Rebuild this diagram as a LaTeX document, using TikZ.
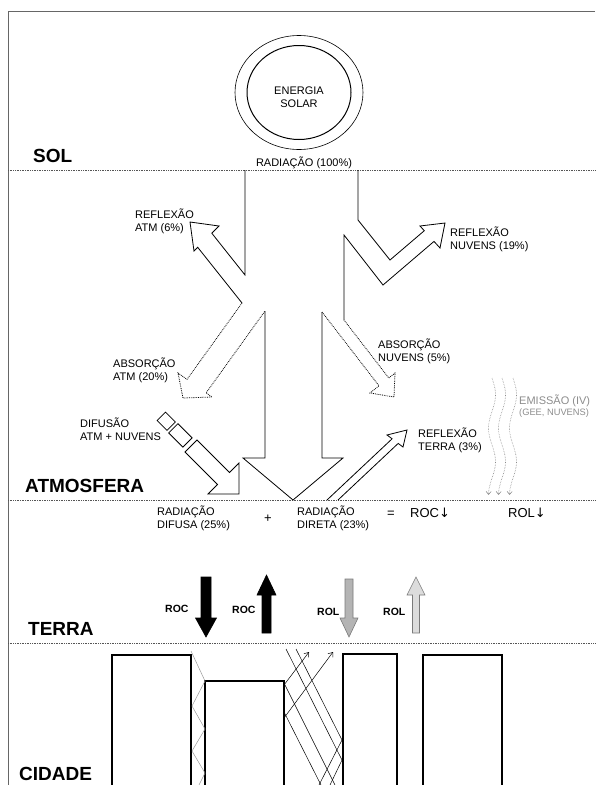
\documentclass[tikz,border=0pt]{standalone}
\usepackage{fontspec}
\setmainfont{Liberation Sans}
\newfontfamily\arrowfont{DejaVu Sans}
\usetikzlibrary{arrows.meta}
\definecolor{frameGray}{HTML}{666666}
\definecolor{layerGray}{HTML}{555555}
\definecolor{emisGray}{HTML}{8C8C8C}
\definecolor{rolDownFill}{HTML}{B4B4B4}
\definecolor{rolUpFill}{HTML}{DCDCDC}
\definecolor{rolEdge}{HTML}{7A7A7A}
\newcommand\lblfont{\fontsize{11}{13}\selectfont}
\newcommand\emisfont{\fontsize{9.3}{11}\selectfont}
\newcommand\layerfont{\bfseries\fontsize{19}{22}\selectfont}
\newcommand\twolines[2]{\begin{tabular}[t]{@{}l@{}}#1\\#2\end{tabular}}
\tikzset{%
  frame/.style={draw=frameGray, line width=0.8pt},
  layer/.style={draw=layerGray, densely dotted, line width=0.7pt},
  flow/.style={draw=black, line width=0.8pt, line join=miter},
  absorb/.style={flow, densely dotted},
  lbl/.style={font=\lblfont, inner sep=0pt, anchor=base west},
  title/.style={font=\layerfont, inner sep=0pt, anchor=base west},
  sumlbl/.style={font=\fontsize{13}{15}\selectfont, inner sep=0pt, anchor=base west},
  roclbl/.style={font=\bfseries\fontsize{10.5}{12}\selectfont, inner sep=0pt, anchor=base west},
  wave/.style={draw=emisGray, densely dotted, line width=0.6pt, -{Straight Barb[length=3pt,width=5pt]}},
  building/.style={line width=1.3pt},
  ray/.style={line width=0.5pt},
  bounce/.style={draw=black!40, line width=0.5pt},
}

\begin{document}
\begin{tikzpicture}[x=1pt, y=-1pt, >={Straight Barb[length=4pt,width=6pt]}]
\useasboundingbox (0,0) rectangle (595,785);
% frame and layers
\draw[frame] (595,11) -- (8,11) -- (8,785);
\foreach \ly in {170,500,643}
    \draw[layer] (8,\ly) -- (595,\ly);
\node[title] (sol) at (33,162) {SOL};
\node[title] (atmos) at (25,492) {ATMOSFERA};
\node[title] (terra) at (28,635) {TERRA};
\node[title] (cidade) at (19,780) {CIDADE};

% sun
\draw[line width=0.6pt] (299,92.5) ellipse [x radius=64, y radius=57];
\draw[line width=1pt] (299,92.5) ellipse [x radius=52, y radius=47];
\node[lbl, anchor=base] (sun) at (299,94) {\begin{tabular}[t]{@{}c@{}}ENERGIA\\SOLAR\end{tabular}};
\node[lbl, anchor=base] (rad) at (304,166) {RADIAÇÃO (100\%)};

% incoming radiation, split in the atmosphere
\draw[flow] (245,170) -- (245,275) -- (211.8,233.2) -- (219,226) -- (190,222) -- (194,251) -- (197.7,247.3) -- (242,303);
\draw[absorb] (242,303) -- (187,379.4) -- (178,373) -- (183,398) -- (212,397) -- (206.1,392.9) -- (265,311);
\draw[flow] (265,311) -- (265,458) -- (243,458) -- (293,500) -- (343,458) -- (322,458) -- (322,312);
\draw[absorb] (322,312) -- (379,385.8) -- (370,393) -- (394,397) -- (395,373) -- (388.8,378) -- (344,320);
\draw[flow] (344,320) -- (344,235) -- (383,285) -- (434,241.4) -- (440,248) -- (445,223) -- (420,226) -- (424.3,230.7) -- (390,260) -- (358,220) -- (358,170);

% diffuse radiation
\draw[flow] (165.5,412.1) -- (157.1,420.5) -- (167,430.4) -- (175.4,422) -- cycle;
\draw[flow] (177.9,423.7) -- (168.7,432.9) -- (182.9,447.1) -- (192.1,437.9) -- cycle;
\draw[flow] (197,440) -- (229.5,472.5) -- (239,463) -- (239,494) -- (208,494) -- (217.5,484.5) -- (185,452) -- cycle;

% reflected by the ground
\draw[flow] (327,500) -- (392.1,438.8) -- (387,435) -- (407,430) -- (403,447) -- (398.2,443.4) -- (338,500);

% labels
\node[lbl] (reflAtm) at (135,218) {\twolines{REFLEXÃO}{ATM (6\%)}};
\node[lbl] (reflNuv) at (450,236) {\twolines{REFLEXÃO}{NUVENS (19\%)}};
\node[lbl] (absAtm) at (113,367) {\twolines{ABSORÇÃO}{ATM (20\%)}};
\node[lbl] (absNuv) at (378,348) {\twolines{ABSORÇÃO}{NUVENS (5\%)}};
\node[lbl] (difus) at (80,427) {\twolines{DIFUSÃO}{ATM + NUVENS}};
\node[lbl] (reflTerra) at (418,437) {\twolines{REFLEXÃO}{TERRA (3\%)}};
\node[lbl, text=emisGray] (emis) at (519,404) {EMISSÃO (IV)};
\node[lbl, font=\emisfont, text=emisGray] (gee) at (519,415) {(GEE, NUVENS)};

% infrared emission
\foreach \wx in {492,502,513}
    \draw[wave] plot[domain=0:1, samples=60, variable=\t] ({\wx+3.5*sin(630*\t)}, {378+117*\t});

% balance at the surface
\node[lbl] (difusa) at (157,515) {\twolines{RADIAÇÃO}{DIFUSA (25\%)}};
\node[sumlbl, anchor=base] (plus) at (268,522) {+};
\node[lbl] (direta) at (297,515) {\twolines{RADIAÇÃO}{DIRETA (23\%)}};
\node[sumlbl, anchor=base] (equal) at (391,517) {=};
\node[sumlbl] (rocSum) at (410,517) {ROC{\arrowfont ↓}};
\node[sumlbl] (rolSum) at (508,517) {ROL{\arrowfont ↓}};

% ROC / ROL fluxes
\foreach \x/\ya/\yb/\yc/\hw/\hh/\fc/\dc in {206/577/618/637/5/10.5/black/black, 266.5/633/595/575/4.5/9.5/black/black, 349/579/618/637/4/9/rolDownFill/rolEdge, 416/633/595/577/3.5/9/rolUpFill/rolEdge}
    \draw[draw=\dc, fill=\fc, line width=0.6pt] (\x-\hw,\ya) -- (\x-\hw,\yb) -- (\x-\hh,\yb) -- (\x,\yc) -- (\x+\hh,\yb) -- (\x+\hw,\yb) -- (\x+\hw,\ya) -- cycle;
\foreach \lx/\ly/\txt/\nm in {165/612/ROC/rocA, 232/613/ROC/rocB, 317/615/ROL/rolA, 383/615/ROL/rolB}
    \node[roclbl] (\nm) at (\lx,\ly) {\txt};

% city
\foreach \bl/\br/\bt in {112/191/655, 205/284/681, 343/397/654, 423/502/655}
    \draw[building] (\bl,790) -- (\bl,\bt) -- (\br,\bt) -- (\br,790);
\draw[bounce] (191,651) -- (205,681) -- (192,706) -- (205,729) -- (192,751) -- (205,773) -- (199,785);
\draw[ray] (286,649) -- (342,760) -- (330,785);
\draw[ray] (296,649) -- (342,740) -- (319,785);
\draw[ray] (284,683) -- (335,785);
\draw[ray] (284,712) -- (321,785);
\draw[ray, ->] (284,685) -- (309,652);
\draw[ray, ->] (284,718) -- (333,652);
\end{tikzpicture}
\end{document}
